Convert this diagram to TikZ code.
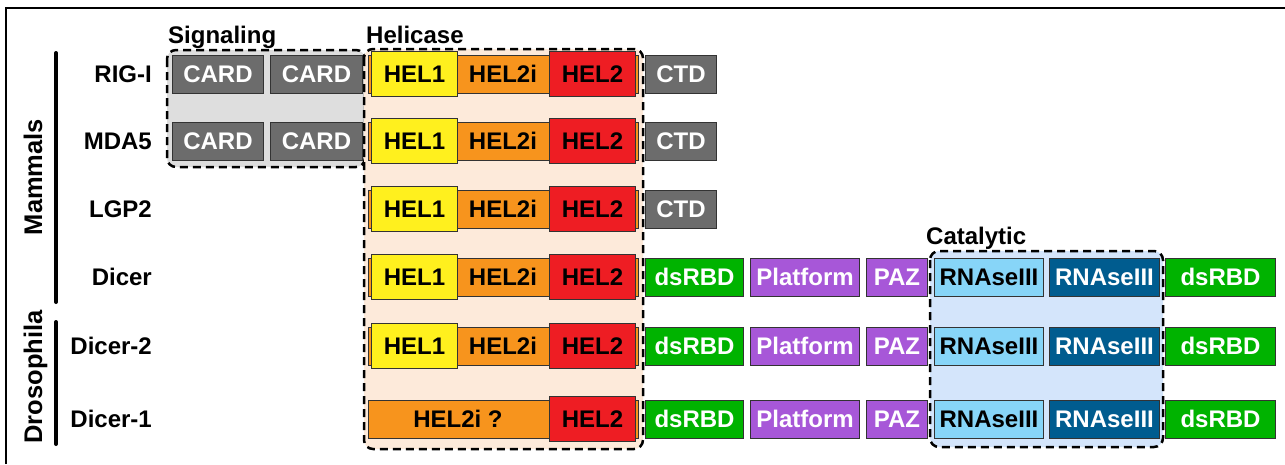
\documentclass[tikz,border=0pt]{standalone}
\usepackage{fontspec}
\setmainfont{Liberation Sans}
\usepackage{xcolor}
\usepackage{tikz}
\usetikzlibrary{arrows.meta,shapes}

\definecolor{cardgray}{HTML}{6C6C6C}
\definecolor{helyellow}{HTML}{FFF01E}
\definecolor{helorange}{HTML}{F7941D}
\definecolor{helred}{HTML}{EE1D23}
\definecolor{rbdgreen}{HTML}{00B300}
\definecolor{pazpurple}{HTML}{A757D8}
\definecolor{rnaselight}{HTML}{87D5F8}
\definecolor{rnasedark}{HTML}{005C8F}
\definecolor{siggray}{HTML}{DEDEDE}
\definecolor{helpeach}{HTML}{FDEADA}
\definecolor{catblue}{HTML}{D4E5FB}

\tikzset{
dom/.style={draw=black!80,line width=1pt,inner sep=0pt,anchor=west,minimum height=38pt,
  font=\fontsize{24}{28}\selectfont\bfseries},
card/.style={dom,fill=cardgray,text=white},
helone/.style={dom,fill=helyellow,minimum height=45pt,minimum width=86pt},
heltwo/.style={dom,fill=helred,minimum height=45pt,minimum width=86pt},
helmid/.style={dom,fill=helorange,minimum width=270pt},
rbd/.style={dom,fill=rbdgreen,text=white},
plat/.style={dom,fill=pazpurple,text=white},
rnlight/.style={dom,fill=rnaselight},
rndark/.style={dom,fill=rnasedark,text=white},
domtext/.style={inner sep=0pt,font=\fontsize{24}{28}\selectfont\bfseries},
rowlabel/.style={inner sep=0pt,anchor=east,font=\fontsize{24}{28}\selectfont\bfseries},
grouplabel/.style={inner sep=0pt,anchor=base west,font=\fontsize{24}{28}\selectfont\bfseries},
sidelabel/.style={inner sep=0pt,anchor=base,rotate=90,font=\fontsize{25.5}{30}\selectfont\bfseries},
groupbox/.style={line width=2.5pt,dash pattern=on 8pt off 5pt,rounded corners=9pt}
}

\begin{document}
\begin{tikzpicture}[x=1pt,y=-1pt]
\useasboundingbox (0,0) rectangle (1285,464);
\draw[line width=2pt](6,464)--(6,8)--(1285,8);
%% group boxes
\draw[groupbox,fill=siggray](167,50) rectangle (365,167);
\draw[groupbox,fill=helpeach](364,49) rectangle (643,449);
\draw[groupbox,fill=catblue](930,251) rectangle (1163,447);
\node[grouplabel] (signaling) at (168,43) {Signaling};
\node[grouplabel] (helicase) at (366,43) {Helicase};
\node[grouplabel] (catalytic) at (926,244) {Catalytic};
%% species
\draw[line width=4pt,line cap=round](56,53)--(56,302);
\draw[line width=4pt,line cap=round](56,322)--(56,444);
\node[sidelabel] (mammals) at (42,177) {Mammals};
\node[sidelabel] (drosophila) at (42,377) {Drosophila};
\node[rowlabel] (rig) at (152,74) {RIG-I};
\node[rowlabel] (mda) at (152,141) {MDA5};
\node[rowlabel] (lgp) at (152,209) {LGP2};
\node[rowlabel] (dcr) at (152,277) {Dicer};
\node[rowlabel] (dcrtwo) at (152,346) {Dicer-2};
\node[rowlabel] (dcrone) at (152,419) {Dicer-1};
%% CARDs
\foreach \r/\y in {rig/74,mda/141}{
\node[card,minimum width=91pt] (\r-cardA) at (172,\y) {CARD};
\node[card,minimum width=92pt] (\r-cardB) at (270,\y) {CARD};
}
%% helicase core
\foreach \r/\y in {rig/74,mda/141,lgp/209,dcr/277,dcrtwo/346}{
\node[helmid] (\r-mid) at (368,\y) {};
\node[helone] (\r-helA) at (371,\y) {HEL1};
\node[heltwo] (\r-helB) at (549,\y) {HEL2};
\node[domtext] (\r-helC) at (503,\y) {HEL2i};
}
\node[helmid] (dcrone-mid) at (368,419) {};
\node[heltwo] (dcrone-helB) at (549,419) {HEL2};
\node[domtext] (dcrone-helC) at (458,419) {HEL2i ?};
%% CTD
\foreach \r/\y in {rig/74,mda/141,lgp/209}
\node[card,minimum width=71pt] (\r-ctd) at (645,\y) {CTD};
%% Dicer domains
\foreach \r/\y in {dcr/277,dcrtwo/346,dcrone/419}{
\node[rbd,minimum width=98pt] (\r-rbdA) at (645,\y) {dsRBD};
\node[plat,minimum width=109pt] (\r-plat) at (750,\y) {Platform};
\node[plat,minimum width=61pt] (\r-paz) at (866,\y) {PAZ};
\node[rnlight,minimum width=109pt] (\r-rnA) at (934,\y) {RNAseIII};
\node[rndark,minimum width=110pt] (\r-rnB) at (1049,\y) {RNAseIII};
\node[rbd,minimum width=110pt] (\r-rbdB) at (1165,\y) {dsRBD};
}
\end{tikzpicture}
\end{document}
